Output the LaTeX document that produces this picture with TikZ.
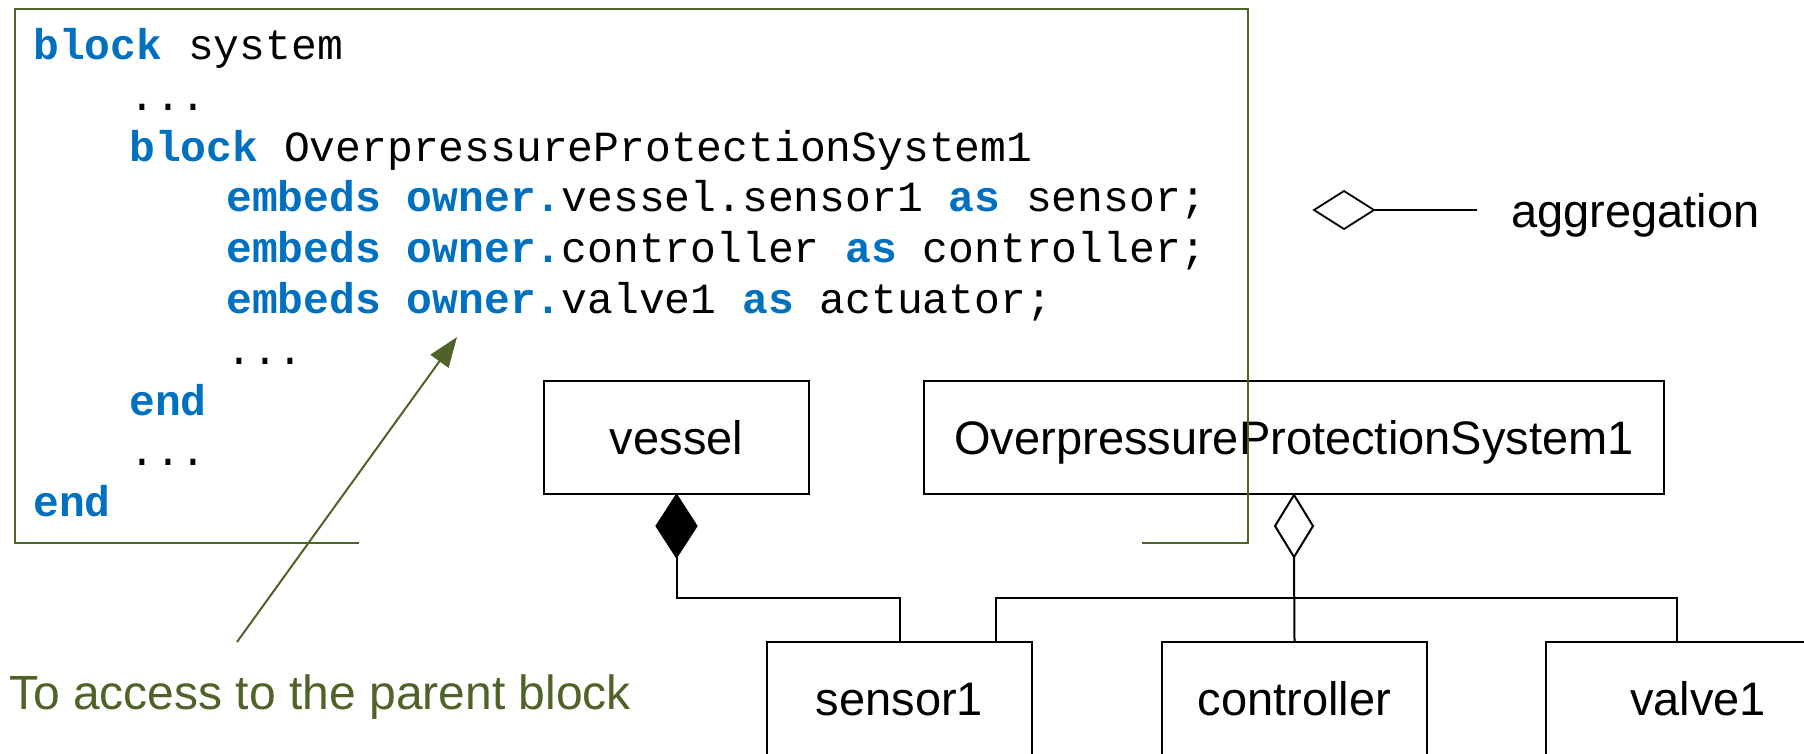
\documentclass[tikz,border=0pt]{standalone}
\usepackage{fontspec}
\setmainfont{Liberation Sans}
\newfontfamily\codefont{Liberation Mono}
\usetikzlibrary{arrows.meta}
\definecolor{olivegr}{RGB}{79,98,40}
\definecolor{kwblue}{RGB}{0,112,192}
\newcommand\kw[1]{\textcolor{kwblue}{\bfseries #1}}
\begin{document}
\begin{tikzpicture}[x=1pt,y=-1pt,
  code/.style={anchor=base west, inner sep=0pt, font=\codefont\fontsize{43}{50}\selectfont},
  umlbox/.style={draw, line width=2pt, inner sep=0pt, minimum height=113pt,
    text height=34pt, text depth=0pt, font=\fontsize{47}{56}\selectfont},
  conn/.style={line width=2pt},
  frameline/.style={draw=olivegr, line width=2pt},
  note/.style={anchor=base west, inner sep=0pt, font=\fontsize{47}{56}\selectfont}]
\useasboundingbox (0,0) rectangle (1804,753);
\clip (0,0) rectangle (1804,753);
% code listing
\node[code] (c0) at (33,59)  {\kw{block} system};
\node[code] (c1) at (129,110) {...};
\node[code] (c2) at (129,161) {\kw{block} OverpressureProtectionSystem1};
\node[code] (c3) at (226,211) {\kw{embeds} \kw{owner.}vessel.sensor1 \kw{as} sensor;};
\node[code] (c4) at (226,262) {\kw{embeds} \kw{owner.}controller \kw{as} controller;};
\node[code] (c5) at (226,313) {\kw{embeds} \kw{owner.}valve1 \kw{as} actuator;};
\node[code] (c6) at (226,364) {...};
\node[code] (c7) at (129,415) {\kw{end}};
\node[code] (c8) at (129,465) {...};
\node[code] (c9) at (33,516) {\kw{end}};
% UML boxes
\node[umlbox, minimum width=265pt] (vessel) at (676.5,437.5) {vessel};
\node[umlbox, minimum width=740pt] (ops) at (1294,437.5) {OverpressureProtectionSystem1};
\node[umlbox, minimum width=265pt] (sensor) at (899.5,698.5) {sensor1};
\node[umlbox, minimum width=265pt] (controller) at (1294.5,698.5) {controller};
\node[umlbox, minimum width=304pt] (valve) at (1698,698.5) {valve1};
% composition diamond
\coordinate (vdt) at (vessel.south);
\draw[conn, fill=black] (vdt) -- ++(20,31) -- ++(-20,31) coordinate (vdb) -- ++(-20,-31) -- cycle;
\coordinate (busL) at (899.5,598);
\draw[conn] (vdb) |- (busL) -- (sensor.north);
% aggregation diamond
\coordinate (odt) at (ops.south);
\draw[conn, fill=white] (odt) -- ++(19,31) -- ++(-19,31) coordinate (odb) -- ++(-19,-31) -- cycle;
\draw[conn] (odb) -- (controller.north);
\coordinate (busA) at (996,598);
\coordinate (busB) at (1677,598);
\draw[conn] (sensor.north -| busA) -- (busA) -- (busB) -- (valve.north -| busB);
% code frame
\draw[frameline] (359,543) -- (15,543) -- (15,9) -- (1248,9) -- (1248,543) -- (1142,543);
% legend
\coordinate (lgl) at (1314,210);
\draw[conn, line width=1.8pt] (lgl) -- ++(30,-19) -- ++(30,19) coordinate (lgr) -- ++(-30,19) -- cycle;
\coordinate (lge) at (1477,210);
\draw[conn, line width=1.8pt] (lgr) -- (lge);
\node[note] (aggr) at (1511,227) {aggregation};
% annotation
\coordinate (atail) at (237,642);
\coordinate (ahead) at (457,337);
\draw[olivegr, line width=2pt, -{Triangle[length=30pt,width=22pt]}] (atail) -- (ahead);
\node[note, text=olivegr, font=\fontsize{48}{56}\selectfont] (ann) at (9,709) {To access to the parent block};
\end{tikzpicture}
\end{document}
